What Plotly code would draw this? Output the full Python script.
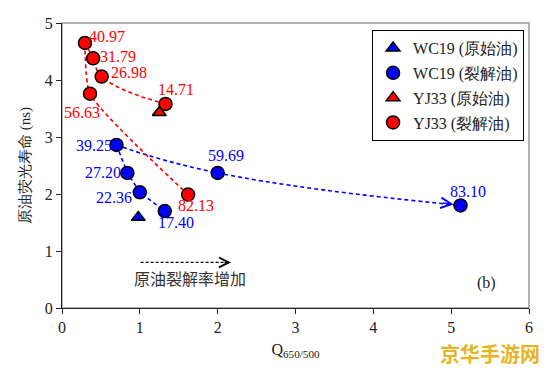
import plotly.graph_objects as go

# ---------------- data ----------------
wc19_raw_x = [0.98]
wc19_raw_y = [1.59]
wc19_crk_x = [0.70, 0.84, 1.00, 1.32, 2.00, 5.12]
wc19_crk_y = [2.86, 2.37, 2.03, 1.70, 2.37, 1.80]
wc19_crk_lbl = ["39.25", "27.20", "22.36", "17.40", "59.69", "83.10"]

yj33_raw_x = [1.25]
yj33_raw_y = [3.43]
yj33_crk_x = [0.295, 0.40, 0.51, 1.33, 0.36, 1.62]
yj33_crk_y = [4.65, 4.38, 4.06, 3.58, 3.76, 1.99]
yj33_crk_lbl = ["40.97", "31.79", "26.98", "14.71", "56.63", "82.13"]

x_ticks = [0, 1, 2, 3, 4, 5, 6]
y_ticks = [0, 1, 2, 3, 4, 5]

# path orders (indices into the cracked-oil arrays)
blue_short_path = [0, 1, 2, 3]
blue_long_path = [0, 4, 5]
red_curve_path = [3, 2, 1, 0]
red_arrow_path = [0, 4, 5]

# ---------------- styling ----------------
BLUE = "#0000ff"
RED = "#ff0000"
SERIF = "Liberation Serif"
CJK = "Liberation Serif"

blue_lbl_style = [  # (xanchor, xshift, yshift)
    ("right", -2, -1), ("right", -4, 0), ("right", -6, -5),
    ("center", 11, -11), ("center", 8, 17), ("center", 7, 14)]
red_lbl_style = [
    ("left", 2, 6), ("left", 5, 2), ("left", 7, 4),
    ("center", 10, 14), ("center", -8, -19), ("center", 8, -11)]


def pick(arr, idx):
    return [arr[i] for i in idx]


fig = go.Figure()
dash = "4px,3px"

# connecting lines
fig.add_trace(go.Scatter(x=pick(wc19_crk_x, blue_short_path), y=pick(wc19_crk_y, blue_short_path),
                         mode="lines", line=dict(color=BLUE, width=1.6, dash=dash),
                         showlegend=False, hoverinfo="skip"))
fig.add_trace(go.Scatter(x=pick(wc19_crk_x, blue_long_path), y=pick(wc19_crk_y, blue_long_path),
                         mode="lines", line=dict(color=BLUE, width=1.6, dash=dash, shape="spline", smoothing=1.3),
                         showlegend=False, hoverinfo="skip"))
fig.add_trace(go.Scatter(x=pick(yj33_crk_x, red_curve_path), y=pick(yj33_crk_y, red_curve_path),
                         mode="lines", line=dict(color=RED, width=1.6, dash=dash, shape="spline", smoothing=1.3),
                         showlegend=False, hoverinfo="skip"))
fig.add_trace(go.Scatter(x=pick(yj33_crk_x, red_arrow_path), y=pick(yj33_crk_y, red_arrow_path),
                         mode="lines", line=dict(color=RED, width=1.6, dash=dash, shape="spline", smoothing=0.55),
                         showlegend=False, hoverinfo="skip"))

mk_line = dict(color="black", width=1.5)
fig.add_trace(go.Scatter(x=wc19_raw_x, y=wc19_raw_y, mode="markers", name="WC19 (原始油)",
                         legendgroup="a",
                         marker=dict(symbol="triangle-up", size=12, color=BLUE, line=mk_line)))
fig.add_trace(go.Scatter(x=wc19_crk_x, y=wc19_crk_y, mode="markers", name="WC19 (裂解油)",
                         legendgroup="b",
                         marker=dict(symbol="circle", size=13, color=BLUE, line=mk_line)))
fig.add_trace(go.Scatter(x=yj33_raw_x, y=yj33_raw_y, mode="markers", name="YJ33 (原始油)",
                         legendgroup="c",
                         marker=dict(symbol="triangle-up", size=12, color=RED, line=mk_line)))
fig.add_trace(go.Scatter(x=yj33_crk_x, y=yj33_crk_y, mode="markers", name="YJ33 (裂解油)",
                         legendgroup="d",
                         marker=dict(symbol="circle", size=13, color=RED, line=mk_line)))

ann = []
for xv, yv, t, (xa, xs, ys) in zip(wc19_crk_x, wc19_crk_y, wc19_crk_lbl, blue_lbl_style):
    ann.append(dict(x=xv, y=yv, text=t, showarrow=False, xanchor=xa, yanchor="middle",
                    xshift=xs, yshift=ys, font=dict(family=SERIF, size=16, color=BLUE)))
for xv, yv, t, (xa, xs, ys) in zip(yj33_crk_x, yj33_crk_y, yj33_crk_lbl, red_lbl_style):
    ann.append(dict(x=xv, y=yv, text=t, showarrow=False, xanchor=xa, yanchor="middle",
                    xshift=xs, yshift=ys, font=dict(family=SERIF, size=16, color=RED)))


def arrow_head(xs, ys, i_from, i_to, color):
    x1, y1 = xs[i_to], ys[i_to]
    x0, y0 = xs[i_from], ys[i_from]
    f = 0.08
    return dict(x=x1, y=y1, ax=x1 + (x0 - x1) * f, ay=y1 + (y0 - y1) * f,
                xref="x", yref="y", axref="x", ayref="y", text="", showarrow=True,
                arrowhead=5, arrowsize=1.6, arrowwidth=1.3, arrowcolor=color, standoff=7)


ann.append(arrow_head(wc19_crk_x, wc19_crk_y, 4, 5, BLUE))
ann.append(arrow_head(yj33_crk_x, yj33_crk_y, 4, 5, RED))

# "cracking rate increases" indicator
trend_x = [1.01, 2.17]
trend_y = [0.80, 0.80]
fig.add_trace(go.Scatter(x=trend_x, y=trend_y, mode="lines",
                         line=dict(color="black", width=1.3, dash="3px,2px"),
                         showlegend=False, hoverinfo="skip"))
ann.append(dict(x=trend_x[1], y=trend_y[1], ax=trend_x[1] - 0.1, ay=trend_y[1],
                xref="x", yref="y", axref="x", ayref="y", text="", showarrow=True,
                arrowhead=5, arrowsize=1.6, arrowwidth=1.2, arrowcolor="black"))
ann.append(dict(x=1.645, y=0.525, text="原油裂解率增加", showarrow=False,
                font=dict(family="Noto Sans CJK SC", size=16, color="#333333")))
ann.append(dict(x=5.45, y=0.44, text="(b)", showarrow=False,
                font=dict(family=SERIF, size=16, color="#222222")))
ann.append(dict(x=1.0, y=0, xref="paper", yref="paper", yshift=-45, xshift=13,
                xanchor="right", yanchor="middle", text="<b>京华手游网</b>", showarrow=False,
                font=dict(family="Noto Sans CJK SC", size=20, color="#e6b422")))

fig.update_layout(
    width=550, height=372,
    margin=dict(l=62, r=21, t=23, b=64),
    paper_bgcolor="white", plot_bgcolor="white",
    annotations=ann,
    shapes=[dict(type="rect", xref="paper", yref="paper", x0=0, x1=1, y0=0, y1=1,
                 line=dict(color="#999999", width=1.5), layer="below")],
    legend=dict(x=0.664, y=0.975, xanchor="left", yanchor="top",
                bgcolor="white", bordercolor="black", borderwidth=1,
                font=dict(family=CJK, size=16, color="#222222"),
                itemwidth=30, tracegroupgap=1),
    xaxis=dict(range=[0, 6], tickvals=x_ticks, showgrid=False, zeroline=False,
               showline=True, linecolor="#222222", linewidth=1.3,
               ticks="outside", ticklen=5, tickcolor="#222222",
               tickfont=dict(family=SERIF, size=16, color="#222222"),
               title=dict(text="Q<sub>650/500</sub>", font=dict(family=SERIF, size=16, color="#222222"),
                          standoff=8)),
    yaxis=dict(range=[0, 5], tickvals=y_ticks, showgrid=False, zeroline=False,
               showline=True, linecolor="#222222", linewidth=1.3,
               ticks="outside", ticklen=5, tickcolor="#222222",
               tickfont=dict(family=SERIF, size=16, color="#222222"),
               title=dict(text="原油荧光寿命 (ns)", font=dict(family=CJK, size=15, color="#222222"),
                          standoff=10)),
)

fig.write_html("out.html", config={"displayModeBar": False},
               post_script="document.body.style.margin='0';")
